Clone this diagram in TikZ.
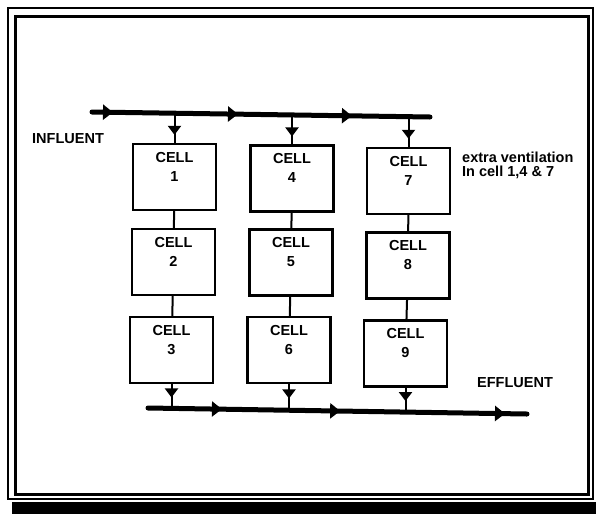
\documentclass[tikz,border=0pt]{standalone}
\usepackage{fontspec}
\setmainfont{Liberation Sans}
\usetikzlibrary{arrows.meta,decorations.markings}
\begin{document}
\begin{tikzpicture}[x=1pt,y=-1pt,
  cellbox/.style={draw, line width=2.2pt, minimum width=83pt, minimum height=66pt, inner sep=0pt},
  celltext/.style={font=\fontsize{14.5}{19}\selectfont\bfseries, align=center, anchor=north, inner sep=0pt},
  lbl/.style={font=\fontsize{14.5}{14}\selectfont\bfseries, align=left, inner sep=0pt, anchor=west},
  busline/.style={line width=5pt, line cap=round},
  link/.style={line width=2pt},
  drop/.style={line width=2pt, postaction={decorate, decoration={markings,
      mark=at position #1 with {\arrow{Triangle[length=9pt,width=13pt]}}}}},
]
\useasboundingbox (0,0) rectangle (596,515);
% frame
\draw[line width=1.8pt] (8,8) rectangle (593,499);
\draw[line width=3pt] (15,16) rectangle (588,494);
\fill (12,502) rectangle (596,514);

% cells
\node[cellbox] (c1) at (174.5,177) {};
\node[cellbox] (c2) at (173.5,262) {};
\node[cellbox] (c3) at (171.5,350) {};
\node[cellbox] (c4) at (292,178.5) {};
\node[cellbox] (c5) at (291,262.5) {};
\node[cellbox] (c6) at (289,350) {};
\node[cellbox] (c7) at (408.5,181) {};
\node[cellbox] (c8) at (408,265.5) {};
\node[cellbox] (c9) at (405.5,353.5) {};
\foreach \n in {1,...,9}{
  \node[celltext] (t\n) at ([yshift=-9pt]c\n.north) {CELL\\\n};
}

% vertical links
\draw[link] (c1) -- (c2);
\draw[link] (c2) -- (c3);
\draw[link] (c4) -- (c5);
\draw[link] (c5) -- (c6);
\draw[link] (c7) -- (c8);
\draw[link] (c8) -- (c9);

% influent bus
\coordinate (inA) at (92,112);
\coordinate (inB) at (430,117);
\coordinate (i1) at (174.5,113.2);
\coordinate (i2) at (292,115);
\coordinate (i3) at (408.5,116.7);
\draw[busline, postaction={decorate, decoration={markings,
   mark=at position 0.062 with {\arrow{Triangle[length=10pt,width=15pt]}},
   mark=at position 0.432 with {\arrow{Triangle[length=10pt,width=15pt]}},
   mark=at position 0.769 with {\arrow{Triangle[length=10pt,width=15pt]}}}}] (inA) -- (inB);
\draw[drop=0.73] (i1) -- (c1.north);
\draw[drop=0.73] (i2) -- (c4.north);
\draw[drop=0.73] (i3) -- (c7.north);

% effluent bus
\coordinate (outA) at (148,408);
\coordinate (outB) at (527,414);
\coordinate (o1) at (171.5,408.4);
\coordinate (o2) at (289,410.2);
\coordinate (o3) at (405.5,412.1);
\draw[busline, postaction={decorate, decoration={markings,
   mark=at position 0.195 with {\arrow{Triangle[length=10pt,width=15pt]}},
   mark=at position 0.507 with {\arrow{Triangle[length=10pt,width=15pt]}},
   mark=at position 0.942 with {\arrow{Triangle[length=10pt,width=15pt]}}}}] (outA) -- (outB);
\draw[drop=0.55] (c3.south) -- (o1);
\draw[drop=0.55] (c6.south) -- (o2);
\draw[drop=0.55] (c9.south) -- (o3);

% labels
\node[lbl] (influent) at (32,139) {INFLUENT};
\node[lbl] (effluent) at (477,383) {EFFLUENT};
\node[lbl] (extra) at (462,165) {extra ventilation\\In cell 1,4 \& 7};
\end{tikzpicture}
\end{document}
